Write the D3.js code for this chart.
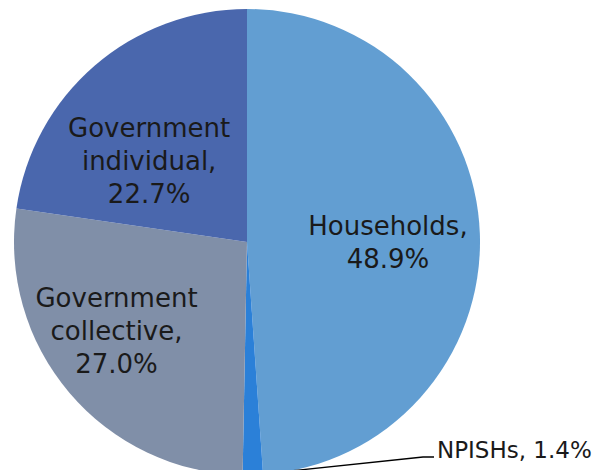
<!DOCTYPE html>
<html>
<head>
<meta charset="utf-8">
<script src="https://cdn.jsdelivr.net/npm/d3@7"></script>
<style>
  html, body { margin: 0; padding: 0; background: #ffffff; }
  svg { display: block; }
  text { font-family: "DejaVu Sans", sans-serif; fill: #1a1a1a; }
</style>
</head>
<body>
<svg id="chart" width="594" height="470"></svg>
<script>
// Sector shares of final consumption expenditure (%)
const categories = ["Households", "NPISHs", "Government collective", "Government individual"];
const shares = [48.9, 1.4, 27.0, 22.7];
const labelLines = [
  ["Households,", "48.9%"],
  ["NPISHs, 1.4%"],
  ["Government", "collective,", "27.0%"],
  ["Government", "individual,", "22.7%"]
];
const colors = ["#629ed2", "#2b80d8", "#808fa8", "#4a67ad"];

const width = 594, height = 470;
const cx = 247, cy = 242, radius = 233;

// Label block centres, as offsets from the pie centre in units of the radius
const labelOffsets = [[0.605, 0.0], null, [-0.56, 0.38], [-0.42, -0.35]];

const svg = d3.select("#chart");
const g = svg.append("g").attr("transform", `translate(${cx},${cy})`);

const data = categories.map((c, i) => ({ name: c, value: shares[i], lines: labelLines[i], color: colors[i], off: labelOffsets[i] }));

const pie = d3.pie().value(d => d.value).sort(null).startAngle(0).endAngle(2 * Math.PI);
const arcs = pie(data);
const arc = d3.arc().innerRadius(0).outerRadius(radius);

g.selectAll("path.slice")
  .data(arcs)
  .join("path")
  .attr("class", "slice")
  .attr("d", arc)
  .attr("fill", d => d.data.color);

const lineH = 33;
const fontSize = 26;

arcs.forEach(a => {
  if (!a.data.off) return;
  const x = a.data.off[0] * radius, y = a.data.off[1] * radius;
  const n = a.data.lines.length;
  const t = g.append("text")
    .attr("text-anchor", "middle")
    .style("font-size", fontSize + "px");
  a.data.lines.forEach((line, k) => {
    t.append("tspan")
      .attr("x", x)
      .attr("y", y + (k - (n - 1) / 2) * lineH + fontSize * 0.36)
      .text(line);
  });
});

// Outside label with leader line for the thin NPISHs slice
const small = arcs[1];
const mid = (small.startAngle + small.endAngle) / 2;
const p0 = [Math.sin(mid) * radius, -Math.cos(mid) * radius];
const elbow = [423 - cx, 457 - cy];
const end = [434 - cx, 457 - cy];
g.append("path")
  .attr("d", d3.line()([p0, elbow, end]))
  .attr("fill", "none")
  .attr("stroke", "#000")
  .attr("stroke-width", 1.3);
g.append("text")
  .attr("x", end[0] + 3)
  .attr("y", end[1] + 1)
  .style("font-size", "23px")
  .text(small.data.lines[0]);
</script>
</body>
</html>
